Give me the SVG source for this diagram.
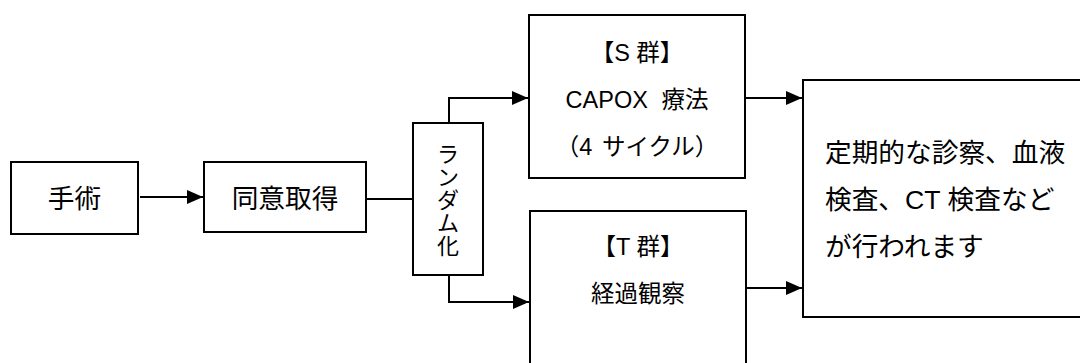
<svg xmlns="http://www.w3.org/2000/svg" width="1080" height="363" viewBox="0 0 1080 363">
  <defs>
    <marker id="arrow" markerUnits="userSpaceOnUse" markerWidth="16" markerHeight="14" refX="16" refY="7" orient="auto">
      <path d="M0,0 L16,7 L0,14 z" fill="#000"/>
    </marker>
    <style>
      .box { fill: #fff; stroke: #000; stroke-width: 2; }
      .conn { fill: none; stroke: #000; stroke-width: 2; }
      .arr { marker-end: url(#arrow); }
      text { font-family: "Liberation Sans", "Noto Sans CJK JP", sans-serif; fill: #000; }
      .big { font-size: 26.7px; }
      .mid { font-size: 23.5px; }
      .vert { font-size: 22px; }
      .c { text-anchor: middle; }
    </style>
  </defs>
  <rect width="1080" height="363" fill="#fff"/>

  <g id="connectors">
    <path class="conn arr" d="M140,197 H203"/>
    <path class="conn" d="M366,199 H413"/>
    <path class="conn arr" d="M449,123 V98 H528"/>
    <path class="conn arr" d="M449,275 V302 H529"/>
    <path class="conn arr" d="M746,98 H802"/>
    <path class="conn arr" d="M747,288 H802"/>
  </g>

  <g id="surgery">
    <rect class="box" x="11" y="162" width="127" height="72"/>
    <text class="big c" x="74.5" y="208">手術</text>
  </g>

  <g id="consent">
    <rect class="box" x="204" y="162" width="162" height="70"/>
    <text class="big c" x="285" y="208">同意取得</text>
  </g>

  <g id="randomization">
    <rect class="box" x="413" y="123" width="70" height="152"/>
    <text class="vert c" x="448" y="162">ラ</text>
    <text class="vert c" x="448" y="185">ン</text>
    <text class="vert c" x="448" y="208">ダ</text>
    <text class="vert c" x="448" y="231">ム</text>
    <text class="vert c" x="448" y="254">化</text>
  </g>

  <g id="group-s">
    <rect class="box" x="529" y="15" width="216" height="163"/>
    <text class="mid c" x="637" y="61">【S 群】</text>
    <text class="mid c" x="637" y="108">CAPOX<tspan dx="7"> </tspan>療法</text>
    <text class="mid c" x="637" y="155">（4<tspan dx="3"> </tspan>サイクル）</text>
  </g>

  <g id="group-t">
    <rect class="box" x="530" y="211" width="216" height="165"/>
    <text class="mid c" x="638" y="255">【T 群】</text>
    <text class="mid c" x="638" y="302">経過観察</text>
  </g>

  <g id="followup">
    <rect class="box" x="803" y="80" width="290" height="237"/>
    <text class="big" x="825" y="162">定期的な診察、血液</text>
    <text class="big" x="825" y="209">検査、CT 検査など</text>
    <text class="big" x="825" y="256">が行われます</text>
  </g>
</svg>
